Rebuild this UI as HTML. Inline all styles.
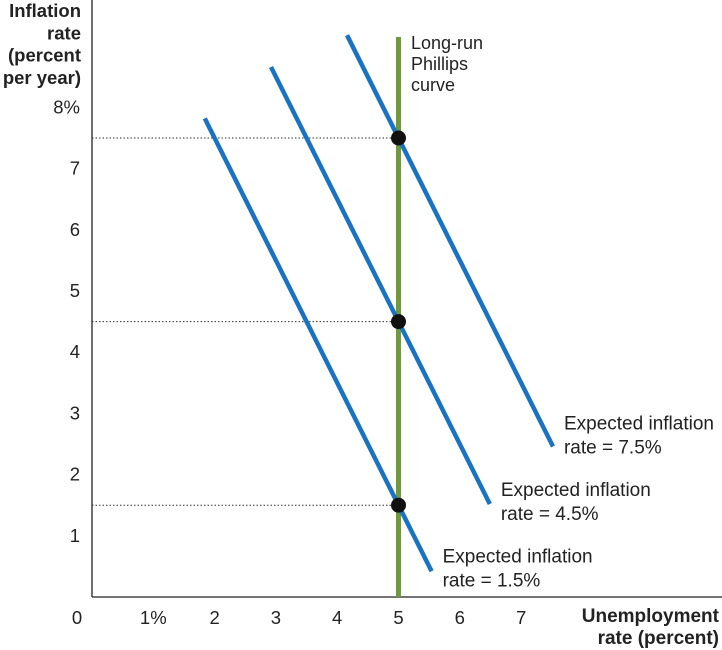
<!DOCTYPE html>
<html><head><meta charset="utf-8"><style>
html,body{margin:0;padding:0;background:#fff;}
svg{display:block;font-family:"Liberation Sans",Arial,sans-serif;}
</style></head><body>
<svg id="chart" width="722" height="650" viewBox="0 0 722 650"></svg>
<script>
const xTicks=[0,1,2,3,4,5,6,7];
const xTickLabels=["0","1%","2","3","4","5","6","7"];
const yTicks=[1,2,3,4,5,6,7,8];
const yTickLabels=["1","2","3","4","5","6","7","8%"];
const expectedRates=[1.5,4.5,7.5];
const curveStartX=[1.84,2.92,4.16];
const curveEndX=[5.54,6.49,7.52];
const curveSlope=[-2,-2,-2];
const lrpcX=5;
const lrpcTop=9.15;
const curveLabels=["Expected inflation|rate = 1.5%","Expected inflation|rate = 4.5%","Expected inflation|rate = 7.5%"];

const X0=92,XS=61.3,Y0=597,YS=61.2;
const sx=v=>X0+v*XS, sy=v=>Y0-v*YS;
const svg=document.getElementById('chart');
const NS='http://www.w3.org/2000/svg';
function mk(tag,attrs,parent){const e=document.createElementNS(NS,tag);for(const k in attrs)e.setAttribute(k,attrs[k]);(parent||svg).appendChild(e);return e;}
function txt(x,y,s,opts,parent){const t=mk('text',Object.assign({x:x,y:y,'font-size':18.5,fill:'#222'},opts||{}),parent);t.textContent=s;return t;}

let a=mk('line',{x1:X0,y1:0,x2:X0,y2:Y0,stroke:'#222','stroke-width':1.3});


a=mk('line',{x1:X0,y1:Y0,x2:722,y2:Y0,stroke:'#222','stroke-width':1.3});



xTicks.forEach((v,i)=>{
  const px=v===0?77:sx(v);
  const t=txt(px,624,xTickLabels[i],{'text-anchor':'middle'});
  
  
});
yTicks.forEach((v,i)=>{
  const t=txt(80,sy(v)+6,yTickLabels[i],{'text-anchor':'end'});
  
  
});

const yt=mk('g',{});


["Inflation","rate","(percent","per year)"].forEach((s,i)=>txt(81,17+i*22.3,s,{'text-anchor':'end','font-weight':'bold','font-size':18.5},yt));
const xt=mk('g',{});


txt(719,622,"Unemployment",{'text-anchor':'end','font-weight':'bold','font-size':19},xt);
txt(719,644,"rate (percent)",{'text-anchor':'end','font-weight':'bold','font-size':19},xt);

expectedRates.forEach(r=>{
  const d=mk('line',{x1:X0,y1:sy(r),x2:sx(lrpcX),y2:sy(r),stroke:'#333','stroke-width':1,'stroke-dasharray':'1.5,2'});
  
  
});

const g=mk('line',{x1:sx(lrpcX),y1:sy(lrpcTop),x2:sx(lrpcX),y2:Y0,stroke:'#6f9a37','stroke-width':5});


const gl=mk('g',{});


["Long-run","Phillips","curve"].forEach((s,i)=>txt(411,49+i*21,s,{'font-size':18},gl));

const labelDy=[-9,-8,-17];
expectedRates.forEach((r,i)=>{
  const y1=r+curveSlope[i]*(curveStartX[i]-lrpcX);
  const y2=r+curveSlope[i]*(curveEndX[i]-lrpcX);
  const l=mk('line',{x1:sx(curveStartX[i]),y1:sy(y1),x2:sx(curveEndX[i]),y2:sy(y2),stroke:'#1a73c2','stroke-width':4.5});
  
  
  const parts=curveLabels[i].split('|');
  const lg=mk('g',{});
  
  
  const lx=sx(curveEndX[i])+11, ly=sy(y2)+labelDy[i];
  txt(lx,ly,parts[0],{'font-size':19},lg);
  txt(lx,ly+24,parts[1],{'font-size':19},lg);
});
expectedRates.forEach(r=>{
  const c=mk('circle',{cx:sx(lrpcX),cy:sy(r),r:7.5,fill:'#111'});
  
  
});
</script>
</body></html>
